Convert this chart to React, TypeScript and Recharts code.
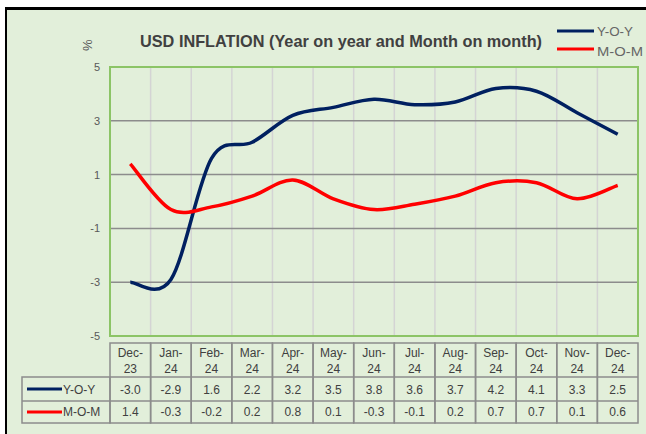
import React from 'react';
import { LineChart, Line, XAxis, YAxis, CartesianGrid, ReferenceArea } from 'recharts';

const categories = ['Dec-23', 'Jan-24', 'Feb-24', 'Mar-24', 'Apr-24', 'May-24', 'Jun-24', 'Jul-24', 'Aug-24', 'Sep-24', 'Oct-24', 'Nov-24', 'Dec-24'];
const yoy = [-3.0, -2.9, 1.6, 2.2, 3.2, 3.5, 3.8, 3.6, 3.7, 4.2, 4.1, 3.3, 2.5];
const mom = [1.4, -0.3, -0.2, 0.2, 0.8, 0.1, -0.3, -0.1, 0.2, 0.7, 0.7, 0.1, 0.6];
const yTicks = [-5, -3, -1, 1, 3, 5];
const seriesNames = ['Y-O-Y', 'M-O-M'];
const title = 'USD INFLATION (Year on year and Month on month)';

const data = categories.map((c, i) => ({ cat: c, yoy: yoy[i], mom: mom[i] }));

const NAVY = '#002060';
const RED = '#ff0000';
const BG = '#e2efda';
const FONT = '"Liberation Sans", Arial, sans-serif';
const TXT = '#404040';

function excelCurve(context: any) {
  let pts: number[][] = [];
  return {
    areaStart() {},
    areaEnd() {},
    lineStart() { pts = []; },
    lineEnd() {
      const n = pts.length;
      if (n === 0) return;
      context.moveTo(pts[0][0], pts[0][1]);
      for (let i = 0; i < n - 1; i++) {
        const p0 = pts[Math.max(i - 1, 0)];
        const p1 = pts[i];
        const p2 = pts[i + 1];
        const p3 = pts[Math.min(i + 2, n - 1)];
        const c1x = p1[0] + (p2[0] - p0[0]) / 6;
        const c1y = p1[1] + (p2[1] - p0[1]) / 6;
        const c2x = p2[0] - (p3[0] - p1[0]) / 6;
        const c2y = p2[1] - (p3[1] - p1[1]) / 6;
        context.bezierCurveTo(c1x, c1y, c2x, c2y, p2[0], p2[1]);
      }
    },
    point(x: number, y: number) { pts.push([+x, +y]); },
  };
}

const H_HEAD = 34;
const H_ROW1 = 24;
const H_ROW2 = 22;
const LABEL_W = 88;
const GRID = '#8c8c8c';

function TableTick(props: any) {
  const { x, y, payload, width, visibleTicksCount, index } = props;
  const cw = width / visibleTicksCount;
  const left = x - cw / 2;
  const [l1, l2] = String(payload.value).split('-');
  const i = index;
  const total = H_HEAD + H_ROW1 + H_ROW2;
  return (
    <g fontFamily={FONT} fontSize={12} fill={TXT}>
      <rect x={left} y={y} width={cw} height={total} fill="none" stroke={GRID} strokeWidth={1.5} />
      <line x1={left} x2={left + cw} y1={y + H_HEAD} y2={y + H_HEAD} stroke={GRID} strokeWidth={1.5} />
      <line x1={left} x2={left + cw} y1={y + H_HEAD + H_ROW1} y2={y + H_HEAD + H_ROW1} stroke={GRID} strokeWidth={1.5} />
      <text x={x} y={y + 14} textAnchor="middle">{l1 + '-'}</text>
      <text x={x} y={y + 30} textAnchor="middle">{l2}</text>
      <text x={x} y={y + H_HEAD + 17} textAnchor="middle">{yoy[i].toFixed(1)}</text>
      <text x={x} y={y + H_HEAD + H_ROW1 + 15} textAnchor="middle">{mom[i].toFixed(1)}</text>
      {i === 0 && (
        <g>
          <rect x={left - LABEL_W} y={y + H_HEAD} width={LABEL_W} height={H_ROW1 + H_ROW2} fill="none" stroke={GRID} strokeWidth={1.5} />
          <line x1={left - LABEL_W} x2={left} y1={y + H_HEAD + H_ROW1} y2={y + H_HEAD + H_ROW1} stroke={GRID} strokeWidth={1.5} />
          <line x1={left - LABEL_W + 5} x2={left - LABEL_W + 40} y1={y + H_HEAD + 12} y2={y + H_HEAD + 12} stroke={NAVY} strokeWidth={3} />
          <text x={left - LABEL_W + 41} y={y + H_HEAD + 17}>{seriesNames[0]}</text>
          <line x1={left - LABEL_W + 5} x2={left - LABEL_W + 40} y1={y + H_HEAD + H_ROW1 + 11} y2={y + H_HEAD + H_ROW1 + 11} stroke={RED} strokeWidth={3} />
          <text x={left - LABEL_W + 41} y={y + H_HEAD + H_ROW1 + 15}>{seriesNames[1]}</text>
        </g>
      )}
    </g>
  );
}

export default function App() {
  const colors = [NAVY, RED];
  return (
    <div style={{ position: 'absolute', left: 0, top: 0, width: 646, height: 434, background: '#fff', overflow: 'hidden' }}>
      <div style={{ position: 'absolute', left: 5, top: 7, right: 0, bottom: 0, background: BG, borderTop: '3px solid #000', borderLeft: '2px solid #000' }} />
      <div style={{ position: 'absolute', left: 0, top: 0 }}>
        <LineChart width={646} height={434} data={data} margin={{ top: 67, right: 8, bottom: 8, left: 80 }}>
          <CartesianGrid horizontal={false} vertical stroke="#d4d4d4" strokeWidth={1.5}
            verticalCoordinatesGenerator={({ offset }: any) => categories.slice(1).map((c, i) => offset.left + ((i + 1) * offset.width) / categories.length)} />
          <CartesianGrid vertical={false} horizontal stroke={GRID} strokeWidth={1.5} />
          <ReferenceArea x1={categories[0]} x2={categories[categories.length - 1]} y1={-5} y2={5} fill="none" stroke="#8cc466" strokeWidth={2} ifOverflow="visible" />
          <XAxis dataKey="cat" scale="band" height={90} axisLine={false} tickLine={false} tickSize={0} tickMargin={7} interval={0} tick={<TableTick />} />
          <YAxis domain={[-5, 5]} ticks={yTicks} width={30} axisLine={false} tickLine={false} tickSize={0} tickMargin={10}
            tick={{ fontFamily: FONT, fontSize: 11, fill: '#595959' }} />
          <Line dataKey="yoy" name={seriesNames[0]} type={excelCurve as any} stroke={NAVY} strokeWidth={3.5} dot={false} isAnimationActive={false} />
          <Line dataKey="mom" name={seriesNames[1]} type={excelCurve as any} stroke={RED} strokeWidth={3.5} dot={false} isAnimationActive={false} />
        </LineChart>
      </div>
      <svg style={{ position: 'absolute', left: 0, top: 0 }} width={646} height={70}>
        <text x={140} y={46.5} fontFamily={FONT} fontWeight="bold" fontSize={17} fill={TXT} textLength={402} lengthAdjust="spacingAndGlyphs">{title}</text>
        <text x={0} y={0} transform="translate(92,51) rotate(-90)" fontFamily={FONT} fontSize={13} fill="#595959">%</text>
        {seriesNames.map((n, i) => (
          <g key={n}>
            <line x1={557} x2={594} y1={31 + i * 18} y2={31 + i * 18} stroke={colors[i]} strokeWidth={3} />
            <text x={597} y={36 + i * 19.5} fontFamily={FONT} fontSize={13.5} fill="#666666" textLength={i === 0 ? 36 : 46} lengthAdjust="spacingAndGlyphs">{n}</text>
          </g>
        ))}
      </svg>
    </div>
  );
}
